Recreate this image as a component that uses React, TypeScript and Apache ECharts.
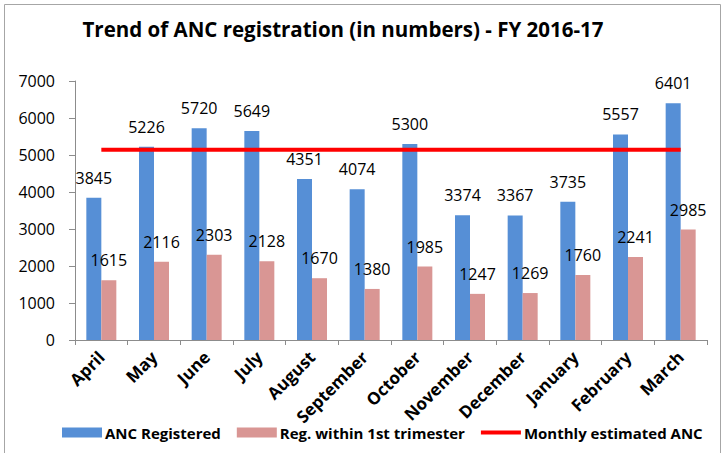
import React, { useEffect, useRef } from "react";
import * as echarts from "echarts";

const months = ["April", "May", "June", "July", "August", "September", "October", "November", "December", "January", "February", "March"];
const ancRegistered = [3845, 5226, 5720, 5649, 4351, 4074, 5300, 3374, 3367, 3735, 5557, 6401];
const firstTrimester = [1615, 2116, 2303, 2128, 1670, 1380, 1985, 1247, 1269, 1760, 2241, 2985];
const monthlyEstimated = [5140, 5140, 5140, 5140, 5140, 5140, 5140, 5140, 5140, 5140, 5140, 5140];
const yTicks = [0, 1000, 2000, 3000, 4000, 5000, 6000, 7000];

export default function App() {
  const ref = useRef<HTMLDivElement>(null);
  useEffect(() => {
    const chart = echarts.init(ref.current!, null, { renderer: "svg" });
    const font = "'Open Sans', 'Liberation Sans', sans-serif";
    chart.setOption({
      animation: false,
      backgroundColor: "#ffffff",
      textStyle: { fontFamily: font },
      title: {
        text: "Trend of ANC registration (in numbers) - FY 2016-17",
        left: 338,
        textAlign: "center",
        top: 13,
        textStyle: { fontSize: 20.5, fontWeight: "bold", color: "#000", fontFamily: font },
      },
      graphic: [
        {
          type: "rect",
          shape: { x: 4.5, y: 4.5, width: 716, height: 460 },
          style: { fill: "none", stroke: "#a6a6a6", lineWidth: 1 },
          silent: true,
        },
      ],
      legend: {
        left: 57,
        top: 420,
        itemWidth: 40,
        itemHeight: 10,
        itemGap: 16,
        textStyle: { fontSize: 15, fontWeight: "bold", color: "#000", fontFamily: font, padding: [0, 0, 0, -2] },
        data: [
          { name: "ANC Registered", icon: "rect" },
          { name: "Reg. within 1st trimester", icon: "rect" },
          { name: "Monthly estimated ANC", icon: "path://M0,0H40V4H0Z" },
        ],
      },
      grid: { left: 75, right: 18, top: 81, bottom: 113, containLabel: false },
      xAxis: {
        type: "category",
        data: months,
        axisLine: { lineStyle: { color: "#8c8c8c", width: 1 } },
        axisTick: { show: true, length: 5, lineStyle: { color: "#8c8c8c" } },
        axisLabel: { rotate: 45, fontSize: 17, fontWeight: "bold", color: "#000", margin: 14, interval: 0, fontFamily: font },
      },
      yAxis: {
        type: "value",
        min: 0,
        max: 7000,
        interval: 1000,
        splitLine: { show: false },
        axisLine: { show: true, lineStyle: { color: "#8c8c8c", width: 1 } },
        axisTick: { show: true, length: 6, lineStyle: { color: "#8c8c8c" } },
        axisLabel: {
          fontSize: 16,
          color: "#000",
          margin: 20,
          fontFamily: font,
          formatter: (v: number) => (yTicks.includes(v) ? String(v) : ""),
        },
      },
      series: [
        {
          name: "ANC Registered",
          type: "bar",
          data: ancRegistered,
          barWidth: 15,
          barGap: "0%",
          itemStyle: { color: "#568fd6" },
          label: { show: true, position: "top", distance: 12, fontSize: 16, color: "#000", fontFamily: font },
        },
        {
          name: "Reg. within 1st trimester",
          type: "bar",
          data: firstTrimester,
          barWidth: 15,
          barGap: "0%",
          itemStyle: { color: "#d99694" },
          label: { show: true, position: "top", distance: 12, fontSize: 16, color: "#000", fontFamily: font },
        },
        {
          name: "Monthly estimated ANC",
          type: "line",
          data: monthlyEstimated,
          symbol: "none",
          lineStyle: { color: "#ff0000", width: 4 },
          itemStyle: { color: "#ff0000" },
          z: 5,
        },
      ],
    });
    return () => chart.dispose();
  }, []);
  return <div ref={ref} style={{ position: "fixed", left: 0, top: 0, width: 725, height: 453 }} />;
}
